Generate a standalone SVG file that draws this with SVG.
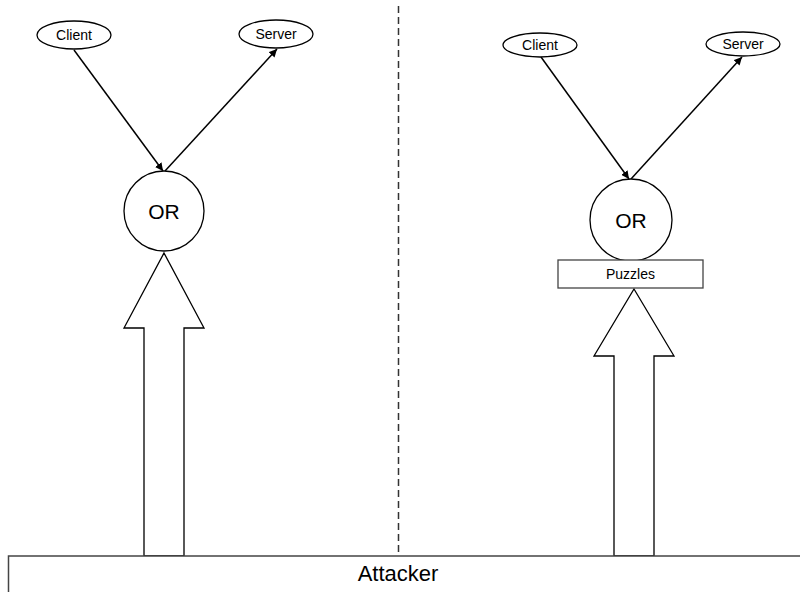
<svg xmlns="http://www.w3.org/2000/svg" width="800" height="592" viewBox="0 0 800 592">
<style>
.sh{fill:#fff;stroke:#000;stroke-width:1.3}
.ln{stroke:#000;stroke-width:1.5;fill:none}
.t{font-family:"Liberation Sans",Arial,sans-serif;fill:#000;text-anchor:middle}
.s{font-size:14px}
.big{font-size:21px}
</style>
<defs>
<marker id="ah" viewBox="0 0 10 10" refX="10" refY="5" markerWidth="8" markerHeight="8" markerUnits="userSpaceOnUse" orient="auto">
<path d="M0,0 L10,5 L0,10 z" fill="#000"/>
</marker>
</defs>
<rect width="800" height="592" fill="#fff"/>
<g id="divider">
<line x1="398.5" y1="6" x2="398.5" y2="556" stroke="#333" stroke-width="1.5" stroke-dasharray="7,4"/>
</g>
<g id="connectors">
<line class="ln" x1="74" y1="50" x2="163" y2="171" marker-end="url(#ah)"/>
<line class="ln" x1="165" y1="171" x2="277" y2="49" marker-end="url(#ah)"/>
<line class="ln" x1="541" y1="57" x2="629" y2="179" marker-end="url(#ah)"/>
<line class="ln" x1="631" y1="179" x2="742" y2="57" marker-end="url(#ah)"/>
<path id="left-arrow" class="sh" d="M164,253 L204,328 L184,328 L184,556 L144,556 L144,328 L124,328 Z"/>
<path id="right-arrow" class="sh" d="M634,289 L674,356 L654,356 L654,556 L614,556 L614,356 L594,356 Z"/>
</g>
<g id="client-left">
<ellipse class="sh" cx="74" cy="35" rx="37" ry="14"/>
<text class="t s" x="74" y="40">Client</text>
</g>
<g id="server-left">
<ellipse class="sh" cx="276" cy="34" rx="37" ry="14"/>
<text class="t s" x="276" y="39">Server</text>
</g>
<g id="or-left">
<circle class="sh" cx="164" cy="211" r="40"/>
<text class="t big" x="164" y="219">OR</text>
</g>
<g id="client-right">
<ellipse class="sh" cx="540" cy="45" rx="37" ry="12"/>
<text class="t s" x="540" y="50">Client</text>
</g>
<g id="server-right">
<ellipse class="sh" cx="743" cy="44" rx="37" ry="12"/>
<text class="t s" x="743" y="49">Server</text>
</g>
<g id="or-right">
<circle class="sh" cx="631" cy="220" r="41"/>
<text class="t big" x="631" y="228">OR</text>
</g>
<g id="puzzles">
<rect x="558" y="260" width="145" height="28" fill="#fff" stroke="#444" stroke-width="1.3"/>
<text class="t s" x="630.5" y="279">Puzzles</text>
</g>
<g id="attacker">
<rect x="8.5" y="556" width="800" height="50" fill="#fff" stroke="#444" stroke-width="1.5"/>
<text class="t" style="font-size:22px" x="398" y="581">Attacker</text>
</g>
</svg>
